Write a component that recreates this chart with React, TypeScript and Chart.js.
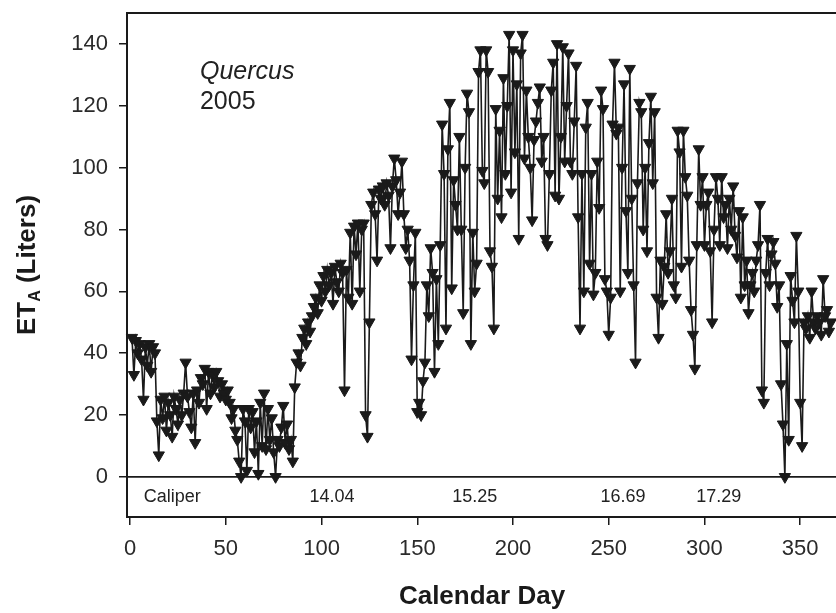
import React, { useEffect, useRef } from "react";
import { Chart, registerables } from "chart.js";

Chart.register(...registerables);

const START_DAY = 1;

// ET_A (Liters), one value per calendar day starting at START_DAY
const etValues: number[] = [
  45, 33, 44, 40, 43, 38, 25, 42, 36, 43,
  34, 42, 40, 18, 7, 25, 19, 26, 15, 24,
  20, 13, 26, 22, 17, 25, 20, 27, 37, 26,
  21, 16, 27, 11, 28, 24, 32, 30, 35, 22,
  34, 27, 33, 29, 34, 31, 26, 30, 27, 25,
  28, 24, 19, 22, 15, 12, 5, 0, 22, 18,
  2, 22, 16, 21, 8, 18, 1, 24, 10, 27,
  9, 22, 12, 19, 8, 0, 12, 10, 16, 23,
  11, 17, 9, 12, 5, 29, 37, 40, 36, 45,
  48, 43, 50, 47, 52, 55, 58, 53, 62, 57,
  65, 60, 67, 62, 66, 56, 68, 63, 60, 69,
  66, 28, 67, 58, 79, 56, 81, 72, 82, 60,
  80, 82, 20, 13, 50, 88, 92, 85, 70, 93,
  90, 94, 88, 95, 91, 74, 94, 103, 96, 85,
  92, 102, 85, 74, 80, 70, 38, 62, 79, 21,
  24, 20, 31, 37, 62, 52, 74, 66, 34, 64,
  43, 75, 114, 98, 48, 106, 121, 61, 96, 88,
  80, 110, 80, 53, 100, 124, 118, 43, 79, 60,
  69, 131, 138, 99, 95, 138, 131, 73, 68, 48,
  119, 90, 112, 84, 129, 98, 120, 143, 92, 138,
  105, 127, 77, 137, 143, 103, 125, 110, 100, 83,
  109, 115, 121, 126, 102, 110, 77, 75, 98, 125,
  134, 91, 140, 90, 110, 139, 102, 120, 137, 102,
  98, 115, 133, 84, 48, 98, 60, 113, 121, 69,
  98, 59, 66, 102, 87, 125, 119, 64, 60, 46,
  58, 114, 134, 111, 113, 60, 100, 127, 86, 66,
  132, 90, 62, 37, 95, 121, 118, 80, 100, 73,
  108, 123, 95, 118, 58, 45, 70, 56, 68, 85,
  66, 73, 90, 62, 58, 112, 105, 68, 112, 97,
  91, 70, 54, 46, 35, 75, 106, 88, 97, 75,
  88, 92, 73, 50, 80, 97, 90, 75, 97, 84,
  88, 74, 90, 80, 94, 78, 71, 86, 58, 84,
  62, 70, 53, 62, 66, 60, 70, 75, 88, 28,
  24, 66, 77, 62, 72, 76, 69, 55, 62, 30,
  17, 0, 43, 12, 65, 57, 50, 78, 60, 24,
  10, 50, 48, 52, 45, 60, 50, 48, 52, 50,
  46, 64, 52, 54, 47, 50,
];

const xTickValues = [0, 50, 100, 150, 200, 250, 300, 350];
const yTickValues = [0, 20, 40, 60, 80, 100, 120, 140];

const caliperLabels = ["Caliper", "14.04", "15.25", "16.69", "17.29"];
const caliperDays = [22, 105.5, 180, 257.5, 307.5];
const caliperLevel = -6.6;

const speciesName = "Quercus";
const yearLabel = "2005";
const xTitle = "Calendar Day";
const yTitleMain = "ET";
const yTitleSub = "A";
const yTitleRest = " (Liters)";

const X_MIN = -1.6;
const X_MAX = 368.7;
const Y_MIN = -13;
const Y_MAX = 150;

const INK = "#1a1a1a";
const FONT = "'Liberation Sans', Arial, sans-serif";

const overlayPlugin = {
  id: "overlay",
  afterDraw(chart: any) {
    const { ctx, chartArea, scales } = chart;
    const xs = scales.x;
    const ys = scales.y;
    ctx.save();
    // top frame line
    ctx.strokeStyle = INK;
    ctx.lineWidth = 2;
    ctx.beginPath();
    ctx.moveTo(chartArea.left, chartArea.top);
    ctx.lineTo(chartArea.right, chartArea.top);
    ctx.stroke();
    // zero line
    const y0 = ys.getPixelForValue(0);
    ctx.lineWidth = 1.8;
    ctx.beginPath();
    ctx.moveTo(chartArea.left, y0);
    ctx.lineTo(chartArea.right, y0);
    ctx.stroke();

    // caliper annotations
    ctx.fillStyle = "#222";
    ctx.font = `18px ${FONT}`;
    ctx.textAlign = "center";
    ctx.textBaseline = "middle";
    caliperLabels.forEach((t, i) => {
      ctx.fillText(t, xs.getPixelForValue(caliperDays[i]), ys.getPixelForValue(caliperLevel));
    });

    // species / year
    ctx.textAlign = "left";
    ctx.textBaseline = "alphabetic";
    ctx.font = `italic 25px ${FONT}`;
    ctx.fillText(speciesName, xs.getPixelForValue(36.5), ys.getPixelForValue(128.5));
    ctx.font = `25px ${FONT}`;
    ctx.fillText(yearLabel, xs.getPixelForValue(36.5), ys.getPixelForValue(119));

    // x title
    ctx.fillStyle = INK;
    ctx.font = `bold 26px ${FONT}`;
    ctx.textAlign = "center";
    ctx.textBaseline = "middle";
    ctx.fillText(xTitle, 482, 597);

    // y title with subscript
    const mainFont = `bold 26px ${FONT}`;
    const subFont = `bold 16px ${FONT}`;
    ctx.font = mainFont;
    const wMain = ctx.measureText(yTitleMain).width;
    const wRest = ctx.measureText(yTitleRest).width;
    ctx.font = subFont;
    const wSub = ctx.measureText(yTitleSub).width;
    const total = wMain + wSub + wRest;
    ctx.translate(35, 265);
    ctx.rotate(-Math.PI / 2);
    ctx.textAlign = "left";
    ctx.textBaseline = "alphabetic";
    let cx = -total / 2;
    ctx.font = mainFont;
    ctx.fillText(yTitleMain, cx, 0);
    cx += wMain;
    ctx.font = subFont;
    ctx.fillText(yTitleSub, cx, 5);
    cx += wSub;
    ctx.font = mainFont;
    ctx.fillText(yTitleRest, cx, 0);
    ctx.restore();
  },
};

export default function App() {
  const canvasRef = useRef<HTMLCanvasElement | null>(null);

  useEffect(() => {
    const canvas = canvasRef.current;
    if (!canvas) return;
    const points = etValues.map((v, i) => ({ x: START_DAY + i, y: v }));
    const chart = new Chart(canvas, {
      type: "line",
      data: {
        datasets: [
          {
            data: points,
            borderColor: INK,
            borderWidth: 1.6,
            backgroundColor: INK,
            pointBackgroundColor: INK,
            pointBorderColor: INK,
            pointBorderWidth: 1,
            pointStyle: "triangle",
            rotation: 180,
            pointRadius: 6.5,
            tension: 0,
            fill: false,
            clip: false,
          } as any,
        ],
      },
      options: {
        responsive: false,
        animation: false,
        events: [],
        layout: { autoPadding: false, padding: { top: 13, right: 0, left: 0, bottom: 0 } },
        plugins: {
          legend: { display: false },
          tooltip: { enabled: false },
          title: { display: false },
        },
        scales: {
          x: {
            type: "linear",
            min: X_MIN,
            max: X_MAX,
            afterBuildTicks: (s: any) => {
              s.ticks = xTickValues.map((v) => ({ value: v }));
            },
            afterFit: (s: any) => {
              s.height = 96;
              s.paddingLeft = 0;
              s.paddingRight = 0;
            },
            ticks: {
              font: { family: FONT, size: 22 },
              color: "#2a2a2a",
              padding: 11,
              maxRotation: 0,
              autoSkip: false,
            },
            grid: {
              drawOnChartArea: false,
              drawTicks: true,
              tickLength: 8,
              color: INK,
              lineWidth: 1.5,
            },
            border: { display: true, color: INK, width: 2 },
          },
          y: {
            type: "linear",
            min: Y_MIN,
            max: Y_MAX,
            afterBuildTicks: (s: any) => {
              s.ticks = yTickValues.map((v) => ({ value: v }));
            },
            afterFit: (s: any) => {
              s.width = 127;
              s.paddingTop = 0;
              s.paddingBottom = 0;
            },
            ticks: {
              font: { family: FONT, size: 22 },
              color: "#2a2a2a",
              padding: 11,
              autoSkip: false,
            },
            grid: {
              drawOnChartArea: false,
              drawTicks: true,
              tickLength: 8,
              color: INK,
              lineWidth: 1.5,
            },
            border: { display: true, color: INK, width: 2 },
          },
        },
      },
      plugins: [overlayPlugin],
    });
    return () => chart.destroy();
  }, []);

  return (
    <div style={{ position: "fixed", left: 0, top: 0, width: 836, height: 613, background: "#fff" }}>
      <canvas ref={canvasRef} width={836} height={613} style={{ display: "block" }} />
    </div>
  );
}
